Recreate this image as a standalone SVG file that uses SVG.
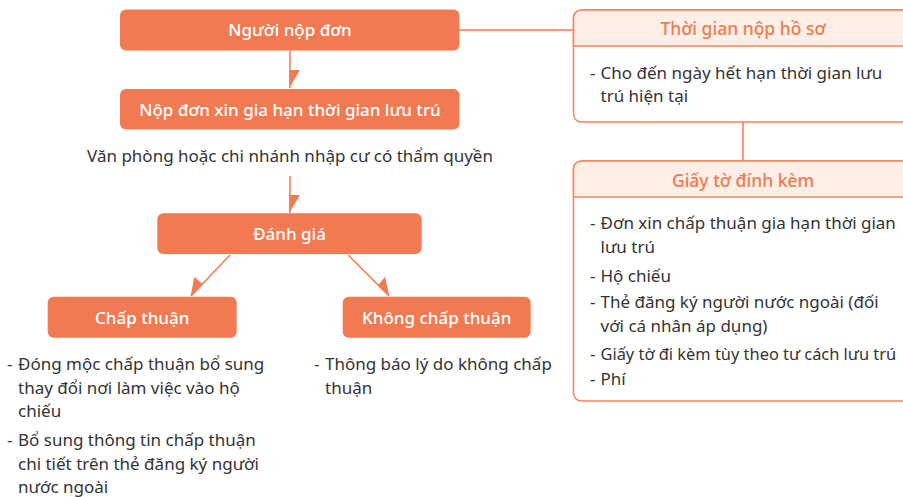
<svg xmlns="http://www.w3.org/2000/svg" width="903" height="497" viewBox="0 0 903 497">
<style>
text{font-family:"Noto Sans","DejaVu Sans",sans-serif;}
.node{fill:#F27A52;}
.nt{fill:#fff;font-size:17px;font-weight:500;text-anchor:middle;}
.body{fill:#333;font-size:17px;}
.conn{stroke:#F27A52;stroke-width:1.5;fill:none;}
.head{fill:#F27A52;}
.box{fill:#fff;stroke:#F4845F;stroke-width:1.5;}
.hdr{fill:#FDEEE7;stroke:#F4845F;stroke-width:1.5;}
.ht{fill:#F07A4E;font-size:17.5px;font-weight:500;text-anchor:middle;}
</style>
<rect width="903" height="497" fill="#fff"/>
<g id="connectors">
<line class="conn" x1="459" y1="30" x2="574" y2="30"/>
<line class="conn" x1="290" y1="50" x2="290" y2="88"/>
<polygon class="head" points="289.3,70 300,70 289.3,88"/>
<line class="conn" x1="290" y1="176" x2="290" y2="213"/>
<polygon class="head" points="289.3,195 300,195 289.3,213"/>
<line class="conn" x1="230" y1="255" x2="191" y2="296"/>
<polygon class="head" points="190.7,296 202.3,284 194.3,276.7"/>
<line class="conn" x1="348.3" y1="255" x2="389" y2="296"/>
<polygon class="head" points="389.3,296 378.3,285 385,276.7"/>
<line class="conn" x1="743" y1="122" x2="743" y2="161"/>
</g>
<g id="node-nguoi-nop-don">
<rect class="node" x="120" y="9.5" width="339.5" height="41" rx="6"/>
<text class="nt" x="290" y="36">Người nộp đơn</text>
</g>
<g id="node-nop-don">
<rect class="node" x="120" y="89" width="339.5" height="40.5" rx="6"/>
<text class="nt" x="290" y="116">Nộp đơn xin gia hạn thời gian lưu trú</text>
</g>
<g id="label-van-phong">
<text class="body" x="290" y="162" text-anchor="middle">Văn phòng hoặc chi nhánh nhập cư có thẩm quyền</text>
</g>
<g id="node-danh-gia">
<rect class="node" x="157.3" y="213.3" width="264.4" height="40.7" rx="6"/>
<text class="nt" x="289.5" y="240">Đánh giá</text>
</g>
<g id="node-chap-thuan">
<rect class="node" x="47.7" y="296.7" width="189" height="41" rx="6"/>
<text class="nt" x="142.2" y="324">Chấp thuận</text>
<text class="body" x="7" y="370">-</text>
<text class="body" x="18" y="370">Đóng mộc chấp thuận bổ sung</text>
<text class="body" x="18" y="393.5">thay đổi nơi làm việc vào hộ</text>
<text class="body" x="18" y="417">chiếu</text>
<text class="body" x="7" y="446">-</text>
<text class="body" x="18" y="446">Bổ sung thông tin chấp thuận</text>
<text class="body" x="18" y="469.5">chi tiết trên thẻ đăng ký người</text>
<text class="body" x="18" y="493">nước ngoài</text>
</g>
<g id="node-khong-chap-thuan">
<rect class="node" x="342.7" y="296.7" width="188" height="41" rx="6"/>
<text class="nt" x="436.7" y="324">Không chấp thuận</text>
<text class="body" x="314" y="370">-</text>
<text class="body" x="325" y="370">Thông báo lý do không chấp</text>
<text class="body" x="325" y="393.5">thuận</text>
</g>
<g id="node-thoi-gian">
<rect class="box" x="573.5" y="10" width="345" height="112" rx="8"/>
<path class="hdr" d="M573.5,46 V18 a8,8 0 0 1 8,-8 H918.5 V46 Z"/>
<text class="ht" x="743" y="35">Thời gian nộp hồ sơ</text>
<text class="body" x="590" y="79">-</text>
<text class="body" x="600.5" y="79">Cho đến ngày hết hạn thời gian lưu</text>
<text class="body" x="600.5" y="102">trú hiện tại</text>
</g>
<g id="node-giay-to">
<rect class="box" x="573.5" y="161" width="345" height="240" rx="8"/>
<path class="hdr" d="M573.5,197 V169 a8,8 0 0 1 8,-8 H918.5 V197 Z"/>
<text class="ht" x="743" y="187">Giấy tờ đính kèm</text>
<text class="body" x="590" y="229">-</text>
<text class="body" x="600.5" y="229">Đơn xin chấp thuận gia hạn thời gian</text>
<text class="body" x="600.5" y="253">lưu trú</text>
<text class="body" x="590" y="281.5">-</text>
<text class="body" x="600.5" y="281.5">Hộ chiếu</text>
<text class="body" x="590" y="308">-</text>
<text class="body" x="600.5" y="308">Thẻ đăng ký người nước ngoài (đối</text>
<text class="body" x="600.5" y="331.5">với cá nhân áp dụng)</text>
<text class="body" x="590" y="360">-</text>
<text class="body" x="600.5" y="360" style="font-size:16.4px">Giấy tờ đi kèm tùy theo tư cách lưu trú</text>
<text class="body" x="590" y="385">-</text>
<text class="body" x="600.5" y="385">Phí</text>
</g>
</svg>
